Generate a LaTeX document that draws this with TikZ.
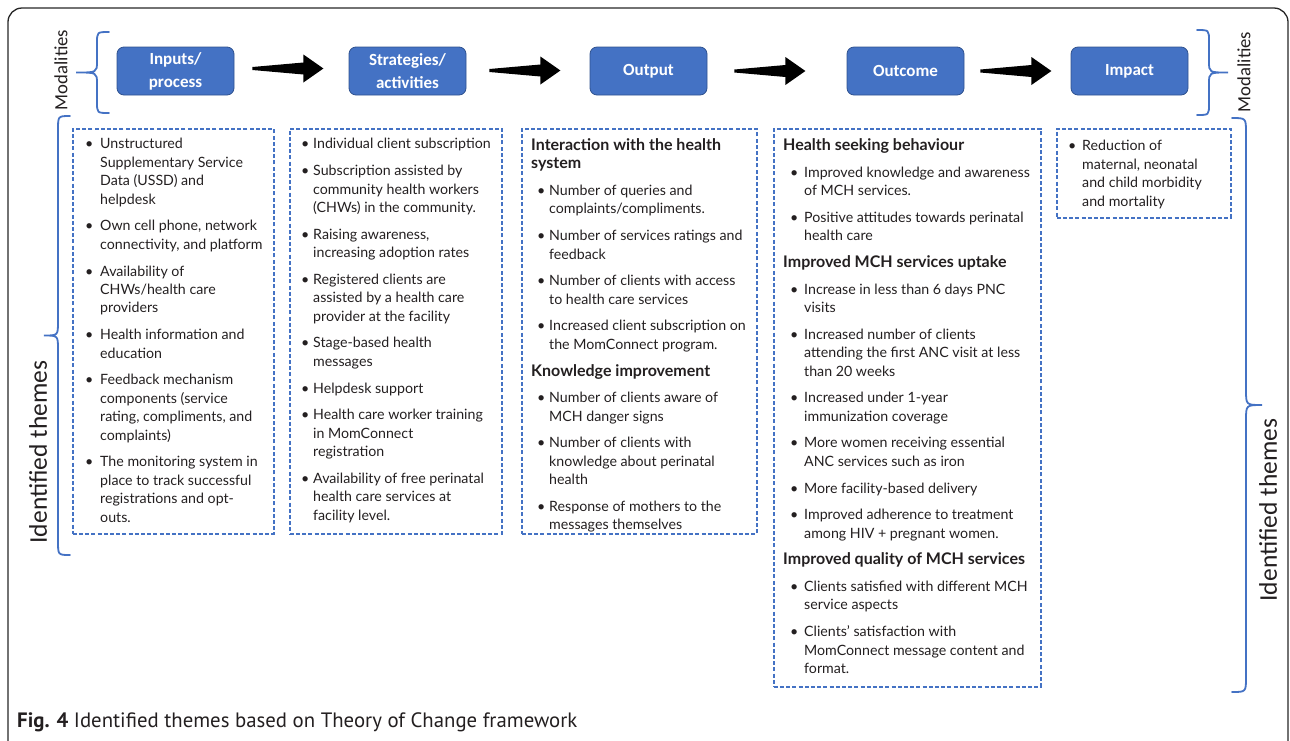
\documentclass[tikz,border=0pt]{standalone}
\usepackage{fontspec}
\setmainfont{Lato}
\newfontfamily\calib{Carlito}
\newfontfamily\capfont{PT Sans}
\usetikzlibrary{calc}
\definecolor{obl}{HTML}{4472C4}
\definecolor{obd}{HTML}{2F528F}
\definecolor{txt}{HTML}{231F20}
\newlength\bulw
\newlength\bulsh
\newcommand\itm[1]{\par\hangindent=\bulw\hangafter=1\noindent\makebox[\bulw][l]{\hspace{\bulsh}\textbullet}#1\par}
\newcommand\hd[1]{\par\noindent{\fontsize{16}{18.43}\selectfont\bfseries #1}\par}
\newenvironment{colbox}[2]{\setlength\bulw{#1}\setlength\bulsh{#2}\begin{minipage}[t]{330pt}\fontsize{14.2}{18.43}\selectfont\setlength\parskip{8.27pt}\setlength\parindent{0pt}\color{txt}}{\end{minipage}}
% curly brace: end x, straight x, tip x, top y, bottom y, radius
\newcommand\cbrace[6]{%
  \draw[bracestyle] (#1,#4) .. controls (#2,#4) .. (#2,{#4+#6}) -- (#2,{(#4+#5)/2-#6})
    .. controls (#2,{(#4+#5)/2}) .. (#3,{(#4+#5)/2})
    .. controls (#2,{(#4+#5)/2}) .. (#2,{(#4+#5)/2+#6}) -- (#2,{#5-#6})
    .. controls (#2,#5) .. (#1,#5);}
\tikzset{
  topbox/.style={rectangle, rounded corners=7pt, fill=obl, draw=obd, line width=0.8pt, text=white,
    minimum width=117pt, minimum height=48pt, align=center, font=\calib\bfseries\fontsize{17}{23}\selectfont},
  dbox/.style={rectangle, draw=obl, line width=1.5pt, dash pattern=on 4pt off 2.2pt, anchor=north west, inner sep=0pt},
  coltext/.style={anchor=base west, inner sep=0pt},
  bracestyle/.style={draw=obl, line width=1.8pt, line cap=round},
  sidelabel/.style={rotate=90, text=txt, inner sep=0pt},
  fatarrow/.pic={\fill[black] (0,-1.5) -- (51,-6) -- (51,-14) -- (71,0) -- (51,14) -- (51,6) -- (0,1.5) -- cycle;}
}
\begin{document}
\begin{tikzpicture}[x=1pt,y=-1pt]
\useasboundingbox (0,0) rectangle (1290,740);
\begin{scope}
\clip (0,0) rectangle (1290,740);
\draw[line width=1.3pt, draw=black!85, rounded corners=14pt] (8,8) rectangle (1288,770);
\end{scope}

% top boxes
\node[topbox] (inp) at (175.5,71) {Inputs/\\process};
\node[topbox] (str) at (407.5,71) {Strategies/\\activities};
\node[topbox] (out) at (648.5,71) {Output};
\node[topbox] (otc) at (905.5,71) {Outcome};
\node[topbox] (imp) at (1129.5,71) {Impact};

% arrows
\coordinate (a1) at ($(inp.east)+(18,-2.5)$);
\coordinate (a2) at ($(str.east)+(23,-0.5)$);
\coordinate (a3) at ($(out.east)+(27,0)$);
\coordinate (a4) at ($(otc.east)+(16,0)$);
\pic at (a1) {fatarrow};
\pic at (a2) {fatarrow};
\pic at (a3) {fatarrow};
\pic at (a4) {fatarrow};

% braces
\cbrace{109}{97}{76}{32}{113}{11}
\cbrace{1197}{1209}{1228}{30}{115}{11}
\cbrace{70}{58}{44}{116}{555}{14}
\cbrace{1232}{1246}{1262}{118}{692}{15}

\node[sidelabel, font=\calib\fontsize{18.7}{20}\selectfont] (modL) at (61,70) {Modalities};
\node[sidelabel, font=\calib\fontsize{18.7}{20}\selectfont] (modR) at (1244,72) {Modalities};
\node[sidelabel, font=\calib\fontsize{25.5}{27}\selectfont] (themL) at (38,452) {Identified themes};
\node[sidelabel, font=\calib\fontsize{25.5}{27}\selectfont] (themR) at (1268,510) {Identified themes};

% dashed boxes
\node[dbox, minimum width=201pt, minimum height=405pt] (b1) at (72,128) {};
\node[dbox, minimum width=212pt, minimum height=405pt] (b2) at (289,128) {};
\node[dbox, minimum width=235pt, minimum height=405pt] (b3) at (521,128) {};
\node[dbox, minimum width=267pt, minimum height=558pt] (b4) at (773,128) {};
\node[dbox, minimum width=174pt, minimum height=89pt] (b5) at (1056,128) {};

% column texts
\node[coltext] (t1) at (85,138.5) {\begin{colbox}{15pt}{0pt}
\itm{Unstructured\\Supplementary Service\\Data (USSD) and\\helpdesk}
\itm{Own cell phone, network\\connectivity, and platform}
\itm{Availability of\\CHWs/health care\\providers}
\itm{Health information and\\education}
\itm{Feedback mechanism\\components (service\\rating, compliments, and\\complaints)}
\itm{The monitoring system in\\place to track successful\\registrations and opt-\\outs.}
\end{colbox}};

\node[coltext] (t2) at (301,138.5) {\begin{colbox}{12pt}{0pt}
\itm{Individual client subscription}
\itm{Subscription assisted by\\community health workers\\(CHWs) in the community.}
\itm{Raising awareness,\\increasing adoption rates}
\itm{Registered clients are\\assisted by a health care\\provider at the facility}
\itm{Stage-based health\\messages}
\itm{Helpdesk support}
\itm{Health care worker training\\in MomConnect\\registration}
\itm{Availability of free perinatal\\health care services at\\facility level.}
\end{colbox}};

\node[coltext] (t3) at (531,138.5) {\begin{colbox}{18pt}{6pt}
\hd{Interaction with the health\\system}
\itm{Number of queries and\\complaints/compliments.}
\itm{Number of services ratings and\\feedback}
\itm{Number of clients with access\\to health care services}
\itm{Increased client subscription on\\the MomConnect program.}
\hd{Knowledge improvement}
\itm{Number of clients aware of\\MCH danger signs}
\itm{Number of clients with\\knowledge about perinatal\\health}
\itm{Response of mothers to the\\messages themselves}
\end{colbox}};

\node[coltext] (t4) at (783,138.5) {\begin{colbox}{21pt}{7pt}
\hd{Health seeking behaviour}
\itm{Improved knowledge and awareness\\of MCH services.}
\itm{Positive attitudes towards perinatal\\health care}
\hd{Improved MCH services uptake}
\itm{Increase in less than 6 days PNC\\visits}
\itm{Increased number of clients\\attending the first ANC visit at less\\than 20 weeks}
\itm{Increased under 1-year\\immunization coverage}
\itm{More women receiving essential\\ANC services such as iron}
\itm{More facility-based delivery}
\itm{Improved adherence to treatment\\among HIV + pregnant women.}
\hd{Improved quality of MCH services}
\itm{Clients satisfied with different MCH\\service aspects}
\itm{Clients' satisfaction with\\MomConnect message content and\\format.}
\end{colbox}};

\node[coltext] (t5) at (1068,140.5) {\begin{colbox}{14pt}{0pt}
\itm{Reduction of\\maternal, neonatal\\and child morbidity\\and mortality}
\end{colbox}};

% caption
\node[anchor=base west, inner sep=0pt, text=txt, font=\capfont\fontsize{20.8}{23}\selectfont] (cap) at (17,727) {\textbf{Fig. 4} Identified themes based on Theory of Change framework};
\end{tikzpicture}
\end{document}
